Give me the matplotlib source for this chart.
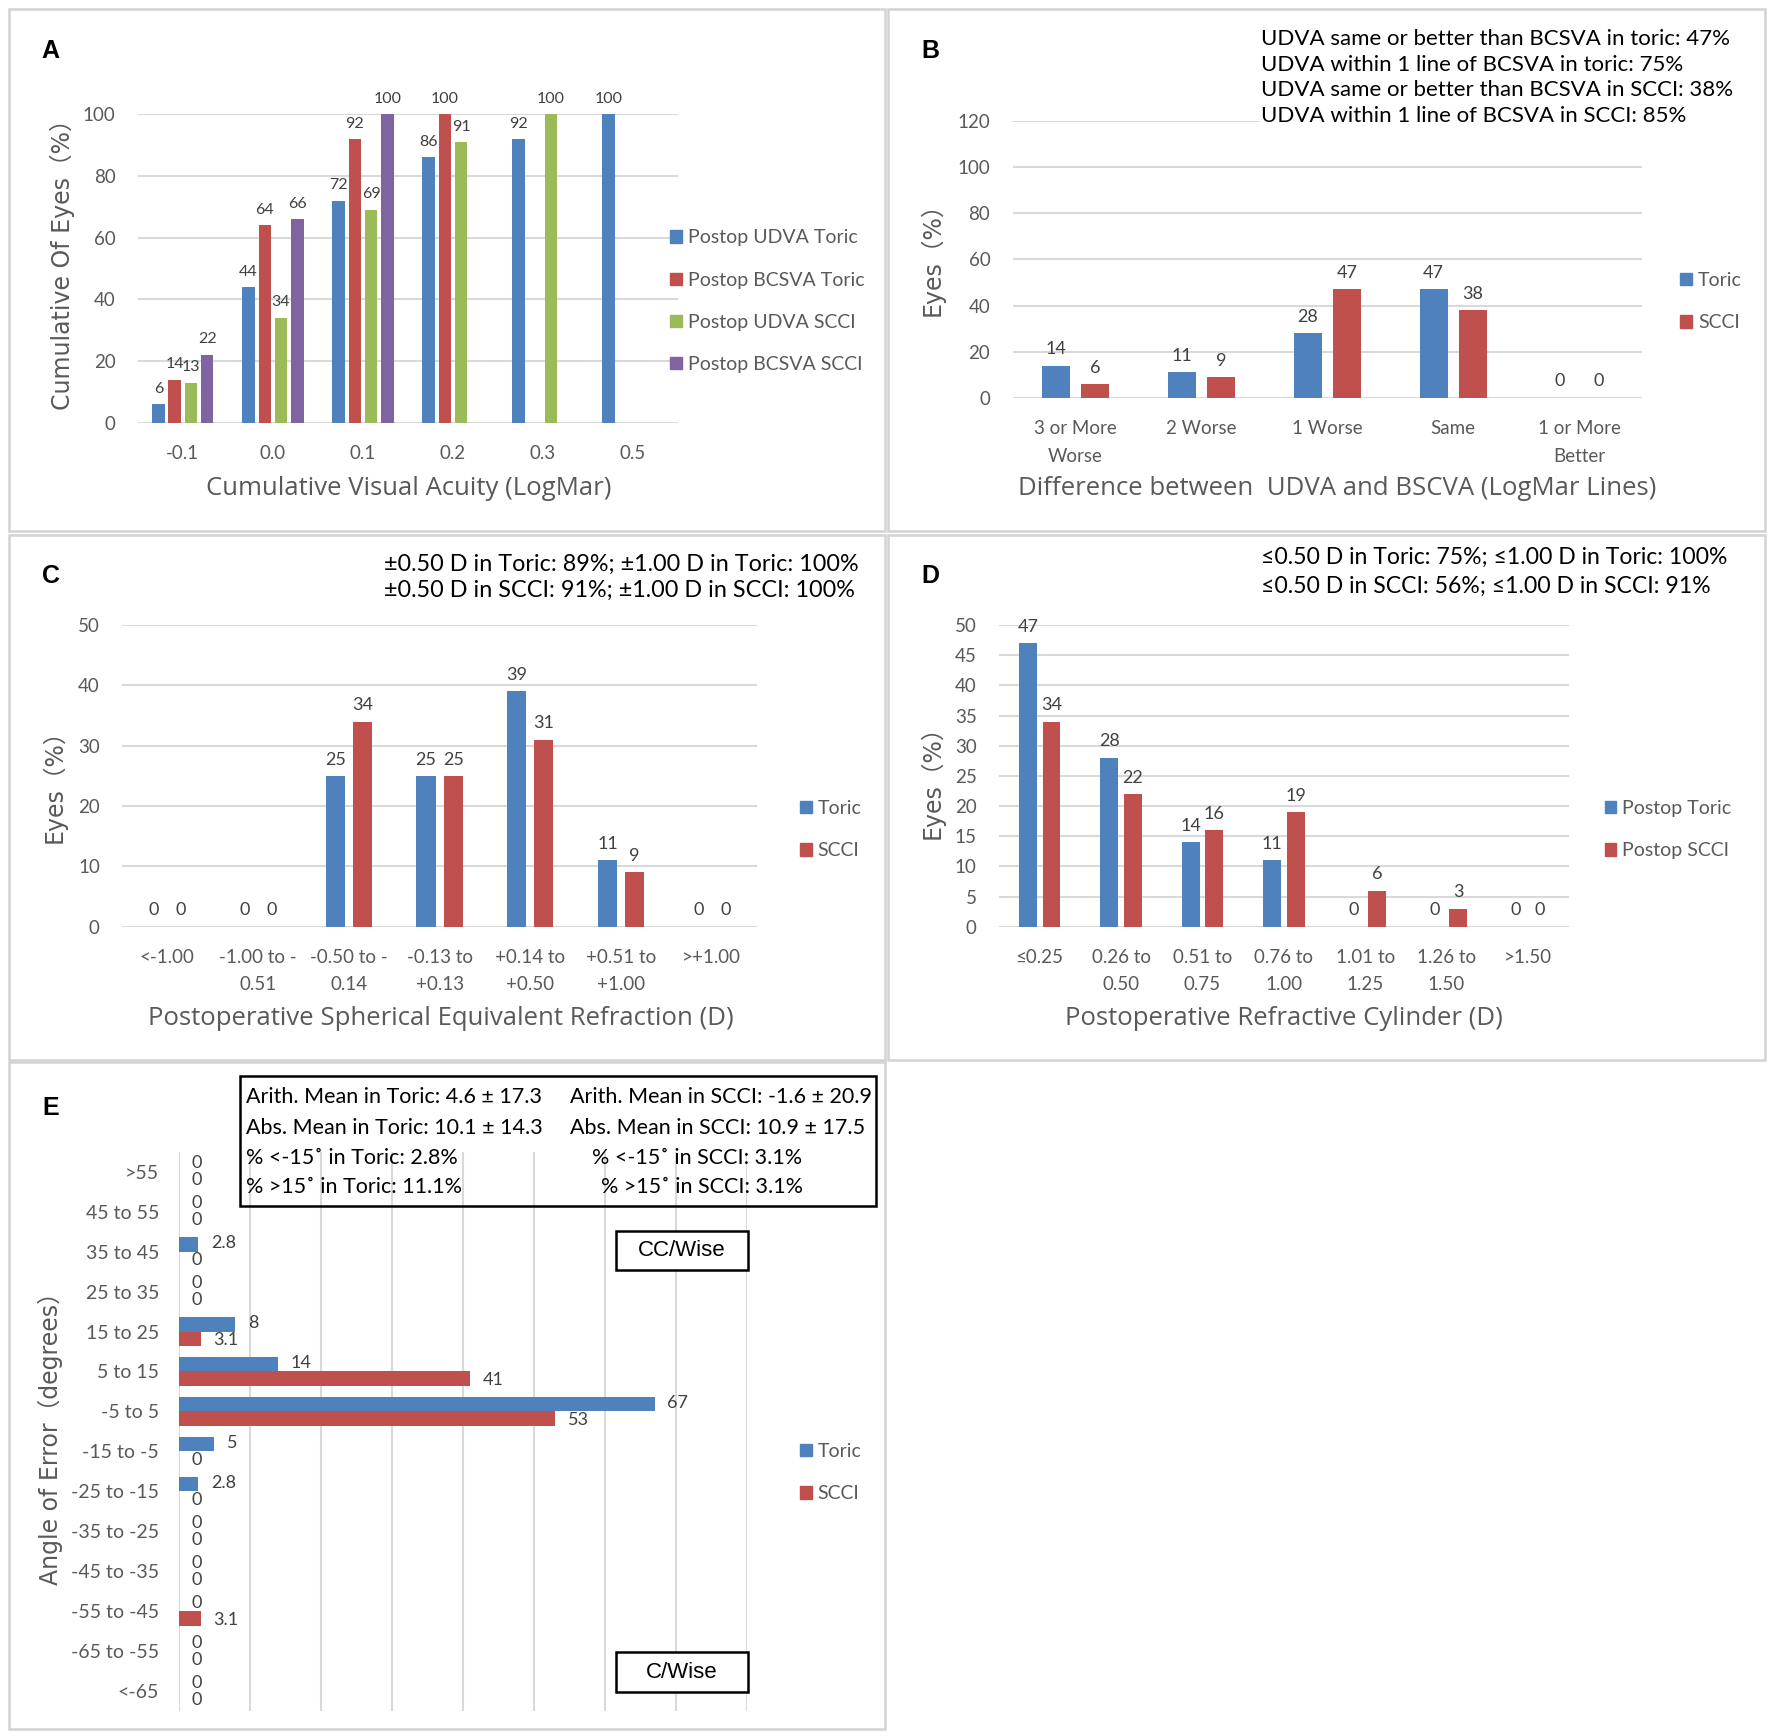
import numpy as np
import matplotlib
matplotlib.use("Agg")
import matplotlib.pyplot as plt
from matplotlib.patches import Rectangle, Patch

plt.rcParams['font.family'] = ['Lato', 'DejaVu Sans']

BLUE = '#4F81BD'
RED = '#C0504D'
GREEN = '#9BBB59'
PURPLE = '#8064A2'
GRID = '#D9D9D9'
TICK = '#595959'
LAB = '#404040'

# panel A
a_cats = ['-0.1', '0.0', '0.1', '0.2', '0.3', '0.5']
a_udva_toric = [6, 44, 72, 86, 92, 100]
a_bcsva_toric = [14, 64, 92, 100, None, None]
a_udva_scci = [13, 34, 69, 91, 100, None]
a_bcsva_scci = [22, 66, 100, None, None, None]
a_names = ['Postop UDVA Toric', 'Postop BCSVA Toric', 'Postop UDVA SCCI', 'Postop BCSVA SCCI']

# panel B
b_cats = ['3 or More\nWorse', '2 Worse', '1 Worse', 'Same', '1 or More\nBetter']
b_toric = [14, 11, 28, 47, 0]
b_scci = [6, 9, 47, 38, 0]

# panel C
c_cats = ['<-1.00', '-1.00 to -\n0.51', '-0.50 to -\n0.14', '-0.13 to\n+0.13',
          '+0.14 to\n+0.50', '+0.51 to\n+1.00', '>+1.00']
c_toric = [0, 0, 25, 25, 39, 11, 0]
c_scci = [0, 0, 34, 25, 31, 9, 0]

# panel D
d_cats = ['≤0.25', '0.26 to\n0.50', '0.51 to\n0.75', '0.76 to\n1.00',
          '1.01 to\n1.25', '1.26 to\n1.50', '>1.50']
d_toric = [47, 28, 14, 11, 0, 0, 0]
d_scci = [34, 22, 16, 19, 6, 3, 0]

# panel E
e_cats = ['>55', '45 to 55', '35 to 45', '25 to 35', '15 to 25', '5 to 15', '-5 to 5',
          '-15 to -5', '-25 to -15', '-35 to -25', '-45 to -35', '-55 to -45',
          '-65 to -55', '<-65']
e_toric = [0, 0, 2.8, 0, 8, 14, 67, 5, 2.8, 0, 0, 0, 0, 0]
e_scci = [0, 0, 0, 0, 3.1, 41, 53, 0, 0, 0, 0, 3.1, 0, 0]

W, H = 1568, 1536


def fx(x):
    return x / W


def fy(y):
    return 1 - y / H


fig = plt.figure(figsize=(17.72, 17.36), dpi=100)

# panel frames
for x0, y0, x1, y1 in [(8, 8, 783, 470), (786, 8, 1562, 470), (8, 473, 783, 938),
                       (786, 473, 1562, 938), (8, 940, 783, 1530)]:
    fig.add_artist(Rectangle((fx(x0), fy(y1)), fx(x1) - fx(x0), fy(y0) - fy(y1),
                             transform=fig.transFigure, fill=False, ec='#D3D3D3', lw=1.8))


def axes_px(x0, x1, ytop, ybot):
    return fig.add_axes([fx(x0), fy(ybot), fx(x1) - fx(x0), fy(ytop) - fy(ybot)])


def style(ax):
    for s in ax.spines.values():
        s.set_visible(False)
    ax.tick_params(length=0, labelcolor=TICK, labelsize=13.5)
    ax.set_axisbelow(True)


def vbars(ax, cats, series, colors, width, step, top, ystep, lsize=13):
    x = np.arange(len(cats))
    n = len(series)
    for k, (vals, c) in enumerate(zip(series, colors)):
        off = (k - (n - 1) / 2) * step
        for i, v in enumerate(vals):
            if v is None:
                continue
            ax.bar(x[i] + off, v, width, color=c)
            ax.annotate(f'{v:g}', (x[i] + off, v), xytext=(0, 6), textcoords='offset points',
                        ha='center', va='bottom', fontsize=lsize, color=LAB)
    ax.set_xlim(-0.5, len(cats) - 0.5)
    ax.set_ylim(0, top)
    ax.set_yticks(np.arange(0, top + 0.1, ystep))
    ax.set_xticks(x)
    ax.set_xticklabels(cats, linespacing=1.75)
    ax.grid(axis='y', color=GRID, lw=1.5)
    style(ax)
    ax.tick_params(axis='y', pad=16)
    ax.tick_params(axis='x', pad=16)


def legend(ax, colors, names, x, y):
    h = [Patch(color=c) for c in colors]
    ax.legend(h, names, loc='center left', bbox_to_anchor=(fx(x), fy(y)),
              bbox_transform=fig.transFigure, frameon=False, fontsize=14,
              handlelength=0.6, handleheight=0.6, handletextpad=0.3,
              labelspacing=1.3, borderpad=0, borderaxespad=0, labelcolor=TICK)


def letter(s, x, y):
    fig.text(fx(x), fy(y), s, fontsize=18, fontweight='bold', family='Liberation Sans',
             ha='center', va='center')


def xlab(s, x, y):
    fig.text(fx(x), fy(y), s, fontsize=18.5, color=TICK, ha='center', va='center',
             family=['Open Sans', 'DejaVu Sans'])


def ylab(s, x, y):
    fig.text(fx(x), fy(y), s, fontsize=17, color=TICK, ha='center', va='center',
             rotation=90, family=['DejaVu Sans', 'Noto Sans CJK SC'])


# A
ax = axes_px(122, 600, 101, 374)
vbars(ax, a_cats, [a_udva_toric, a_bcsva_toric, a_udva_scci, a_bcsva_scci],
      [BLUE, RED, GREEN, PURPLE], 0.14, 0.18, 100, 20, lsize=11.5)
legend(ax, [BLUE, RED, GREEN, PURPLE], a_names, 593, 266.5)
letter('A', 45, 45)
xlab('Cumulative Visual Acuity (LogMar)', 362, 432)
ylab('Cumulative Of Eyes（%）', 55, 229)

# B
ax = axes_px(896, 1453, 107, 352)
vbars(ax, b_cats, [b_toric, b_scci], [BLUE, RED], 0.22, 0.31, 120, 20)
legend(ax, [BLUE, RED], ['Toric', 'SCCI'], 1487, 267)
letter('B', 823, 45)
xlab('Difference between  UDVA and BSCVA (LogMar Lines)', 1183, 432)
ylab('Eyes（%）', 825, 224)
fig.text(fx(1116), fy(68.5), 'UDVA same or better than BCSVA in toric: 47%\n'
         'UDVA within 1 line of BCSVA in toric: 75%\n'
         'UDVA same or better than BCSVA in SCCI: 38%\n'
         'UDVA within 1 line of BCSVA in SCCI: 85%',
         fontsize=16, ha='left', va='center', linespacing=1.34,
         bbox=dict(fc='white', ec='none', pad=2), zorder=5)

# C
ax = axes_px(108, 670, 553, 820)
vbars(ax, c_cats, [c_toric, c_scci], [BLUE, RED], 0.21, 0.3, 50, 10)
legend(ax, [BLUE, RED], ['Toric', 'SCCI'], 708, 734)
letter('C', 45, 510)
xlab('Postoperative Spherical Equivalent Refraction (D)', 390, 901)
ylab('Eyes（%）', 48, 690)
fig.text(fx(340), fy(511), '±0.50 D in Toric: 89%; ±1.00 D in Toric: 100%\n'
         '±0.50 D in SCCI: 91%; ±1.00 D in SCCI: 100%',
         fontsize=16.8, ha='left', va='center', linespacing=1.28)

# D
ax = axes_px(884, 1388, 553, 820)
vbars(ax, d_cats, [d_toric, d_scci], [BLUE, RED], 0.22, 0.29, 50, 5)
legend(ax, [BLUE, RED], ['Postop Toric', 'Postop SCCI'], 1420, 734)
letter('D', 823, 510)
xlab('Postoperative Refractive Cylinder (D)', 1136, 901)
ylab('Eyes（%）', 825, 687)
fig.text(fx(1116), fy(506), '≤0.50 D in Toric: 75%; ≤1.00 D in Toric: 100%\n'
         '≤0.50 D in SCCI: 56%; ≤1.00 D in SCCI: 91%',
         fontsize=16.6, ha='left', va='center', linespacing=1.47)

# E
ax = axes_px(158, 661, 1019, 1514)
y = np.arange(len(e_cats))
hgt = 0.37
for vals, c, off in [(e_toric, BLUE, -hgt / 2), (e_scci, RED, hgt / 2)]:
    ax.barh(y + off, vals, hgt, color=c)
    for yi, v in zip(y, vals):
        ax.annotate(f'{v:g}', (v, yi + off * 1.15), xytext=(9, 0), textcoords='offset points',
                    ha='left', va='center', fontsize=13, color=LAB)
ax.set_ylim(len(e_cats) - 0.5, -0.5)
ax.set_xlim(0, 80)
ax.set_xticks(np.arange(0, 81, 10))
ax.set_xticklabels([])
ax.set_yticks(y)
ax.set_yticklabels(e_cats)
ax.grid(axis='x', color=GRID, lw=1.5)
style(ax)
ax.tick_params(axis='y', pad=14, labelsize=14)
legend(ax, [BLUE, RED], ['Toric', 'SCCI'], 708, 1303)
letter('E', 45, 980)
ylab('Angle of Error（degrees）', 45, 1268)

fig.add_artist(Rectangle((fx(212), fy(1067)), fx(775) - fx(212), fy(952) - fy(1067),
                         transform=fig.transFigure, fill=False, ec='black', lw=1.8))
rows = [(971, 'Arith. Mean in Toric: 4.6 ± 17.3', 504, 'Arith. Mean in SCCI: -1.6 ± 20.9'),
        (998, 'Abs. Mean in Toric: 10.1 ± 14.3', 504, 'Abs. Mean in SCCI: 10.9 ± 17.5'),
        (1025, '% <-15˚ in Toric: 2.8%', 524, '% <-15˚ in SCCI: 3.1%'),
        (1050, '% >15˚ in Toric: 11.1%', 532, '% >15˚ in SCCI: 3.1%')]
for yy, t1, x2, t2 in rows:
    fig.text(fx(218), fy(yy), t1, fontsize=15.5, ha='left', va='center')
    fig.text(fx(x2), fy(yy), t2, fontsize=15.5, ha='left', va='center')

for yc, t in [(1106.5, 'CC/Wise'), (1479.5, 'C/Wise')]:
    fig.add_artist(Rectangle((fx(545), fy(yc + 17.5)), fx(662) - fx(545), fy(yc - 17.5) - fy(yc + 17.5),
                             transform=fig.transFigure, fc='white', ec='black', lw=1.8))
    fig.text(fx(603.5), fy(yc), t, fontsize=16, family='Liberation Sans', ha='center', va='center')

fig.savefig('out.png', dpi=100)
